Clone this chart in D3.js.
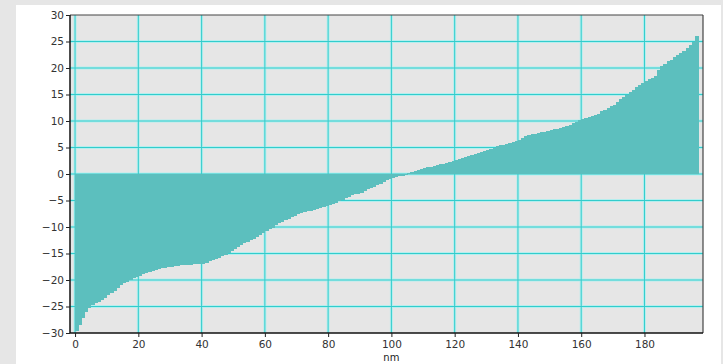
<!DOCTYPE html>
<html><head><meta charset="utf-8">
<script src="https://cdn.jsdelivr.net/npm/d3@7"></script>
<style>html,body{margin:0;padding:0;background:#e6e6e6;}svg{display:block;}</style>
</head><body>
<svg id="c" width="723" height="364"></svg>
<script>
const values = [
-29.6,-28.4,-27.1,-26.0,-25.3,-24.8,-24.4,-24.1,-23.7,-23.4,
-22.9,-22.5,-22.0,-21.5,-21.0,-20.6,-20.3,-20.0,-19.7,-19.4,
-19.2,-18.9,-18.7,-18.5,-18.3,-18.1,-18.0,-17.8,-17.7,-17.6,
-17.5,-17.4,-17.3,-17.2,-17.2,-17.1,-17.1,-17.0,-17.0,-17.0,
-16.9,-16.7,-16.4,-16.2,-16.0,-15.8,-15.5,-15.2,-14.9,-14.5,
-14.2,-13.8,-13.4,-13.1,-12.8,-12.5,-12.2,-11.8,-11.5,-11.1,
-10.8,-10.4,-10.1,-9.7,-9.3,-9.0,-8.7,-8.4,-8.1,-7.9,
-7.6,-7.4,-7.2,-7.0,-6.9,-6.8,-6.6,-6.5,-6.3,-6.0,
-5.8,-5.6,-5.4,-5.1,-4.9,-4.6,-4.3,-4.0,-3.8,-3.7,
-3.5,-3.2,-2.9,-2.7,-2.4,-2.1,-1.8,-1.5,-1.2,-1.0,
-0.8,-0.6,-0.4,-0.3,-0.1,0.1,0.3,0.5,0.7,0.9,
1.1,1.3,1.4,1.6,1.7,1.8,1.9,2.0,2.2,2.4,
2.6,2.8,3.0,3.2,3.4,3.6,3.8,4.0,4.2,4.4,
4.6,4.8,5.0,5.2,5.4,5.5,5.7,5.9,6.1,6.3,
6.5,6.7,7.1,7.3,7.5,7.6,7.8,7.9,8.0,8.1,
8.3,8.4,8.5,8.7,8.9,9.1,9.3,9.6,9.8,10.1,
10.3,10.6,10.8,11.0,11.2,11.4,11.8,12.1,12.5,12.8,
13.1,13.6,14.1,14.5,15.0,15.5,15.9,16.4,16.8,17.2,
17.6,17.9,18.2,18.5,19.6,20.3,20.8,21.3,21.6,22.0,
22.4,22.8,23.2,23.7,24.3,25.0,26.0
];
const positions = values.map((v, i) => i);
const xTicks = [0, 20, 40, 60, 80, 100, 120, 140, 160, 180];
const yTicks = [-30, -25, -20, -15, -10, -5, 0, 5, 10, 15, 20, 25, 30];
const xLabel = "nm";

const svg = d3.select("#c");
const L = 70, R = 703, T = 15, B = 333;

svg.append("rect").attr("x", 16).attr("y", 5).attr("width", 705).attr("height", 359).attr("fill", "#ffffff");

const x = d3.scaleLinear().domain([-1.6, 198.5]).range([L, R]);
const y = d3.scaleLinear().domain([-30, 30]).range([B, T]);

svg.append("rect").attr("x", L).attr("y", T).attr("width", R - L).attr("height", B - T).attr("fill", "#e6e6e6");

const grid = svg.append("g");
xTicks.forEach(t => {
  grid.append("line").attr("x1", x(t)).attr("x2", x(t)).attr("y1", T).attr("y2", B)
    .attr("stroke", "#b5eeee").attr("stroke-width", 3);
});
yTicks.filter(t => t > -30 && t < 30).forEach(t => {
  grid.append("line").attr("x1", L).attr("x2", R).attr("y1", y(t)).attr("y2", y(t))
    .attr("stroke", "#b5eeee").attr("stroke-width", 3);
});
xTicks.forEach(t => {
  grid.append("line").attr("x1", x(t)).attr("x2", x(t)).attr("y1", T).attr("y2", B)
    .attr("stroke", "#33cccc").attr("stroke-width", 1);
});
yTicks.filter(t => t > -30 && t < 30).forEach(t => {
  grid.append("line").attr("x1", L).attr("x2", R).attr("y1", y(t)).attr("y2", y(t))
    .attr("stroke", "#33cccc").attr("stroke-width", 1);
});

svg.append("g").selectAll("rect").data(values).join("rect")
  .attr("x", (d, i) => x(positions[i]))
  .attr("width", (d, i) => x(positions[i] + 1) - x(positions[i]) + 0.6)
  .attr("y", d => Math.min(y(d), y(0)))
  .attr("height", d => Math.abs(y(d) - y(0)))
  .attr("fill", "#5cbfbe")
  .attr("shape-rendering", "crispEdges");

// frame
svg.append("line").attr("x1", L).attr("x2", R).attr("y1", T).attr("y2", T).attr("stroke", "#444").attr("stroke-width", 1.2);
svg.append("line").attr("x1", R).attr("x2", R).attr("y1", T).attr("y2", B).attr("stroke", "#444").attr("stroke-width", 1.2);

const yAxis = d3.axisLeft(y).tickValues(yTicks).tickSize(4).tickPadding(2).tickFormat(d3.format("d"));
const gy = svg.append("g").attr("transform", `translate(${L},0)`).call(yAxis);
const xAxis = d3.axisBottom(x).tickValues(xTicks).tickSize(4).tickPadding(4).tickFormat(d3.format("d"));
const gx = svg.append("g").attr("transform", `translate(0,${B})`).call(xAxis);
[gy, gx].forEach(g => {
  g.select(".domain").attr("stroke", "#111").attr("stroke-width", 1.5);
  g.selectAll(".tick line").attr("stroke", "#222");
  g.selectAll(".tick text").attr("fill", "#333").attr("font-family", "DejaVu Sans, Verdana, sans-serif").attr("font-size", 10.5);
});
gy.select(".domain").attr("d", `M0,${T}V${B}`);
gx.select(".domain").attr("d", `M${L},0H${R}`);

svg.append("text").attr("x", x(100)).attr("y", 361).attr("text-anchor", "middle")
  .attr("font-family", "DejaVu Sans, Verdana, sans-serif").attr("font-size", 10).attr("fill", "#222").text(xLabel);
</script>
</body></html>
